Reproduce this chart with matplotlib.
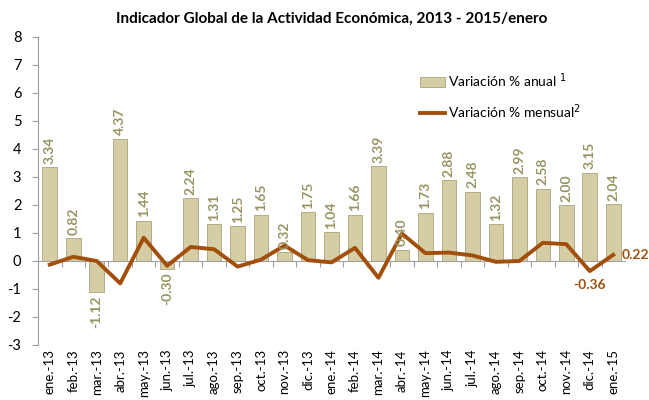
import numpy as np
import matplotlib.pyplot as plt

meses = ['ene.-13', 'feb.-13', 'mar.-13', 'abr.-13', 'may.-13', 'jun.-13', 'jul.-13',
         'ago.-13', 'sep.-13', 'oct.-13', 'nov.-13', 'dic.-13', 'ene.-14', 'feb.-14',
         'mar.-14', 'abr.-14', 'may.-14', 'jun.-14', 'jul.-14', 'ago.-14', 'sep.-14',
         'oct.-14', 'nov.-14', 'dic.-14', 'ene.-15']
anual = [3.34, 0.82, -1.12, 4.37, 1.44, -0.30, 2.24, 1.31, 1.25, 1.65, 0.32, 1.75,
         1.04, 1.66, 3.39, 0.40, 1.73, 2.88, 2.48, 1.32, 2.99, 2.58, 2.00, 3.15, 2.04]
mensual = [-0.13, 0.15, 0.0, -0.80, 0.83, -0.17, 0.50, 0.42, -0.20, 0.05, 0.55, 0.03,
           -0.05, 0.47, -0.60, 0.98, 0.28, 0.30, 0.20, -0.03, 0.0, 0.65, 0.60, -0.36, 0.22]

plt.rcParams['font.family'] = ['Lato', 'DejaVu Sans']
plt.rcParams['axes.unicode_minus'] = False

x = np.arange(len(meses))
fig = plt.figure(figsize=(6.49, 4.0), dpi=100)
ax = fig.add_axes([0.0586, 0.1375, 0.9044, 0.77])

b = ax.bar(x, anual, width=0.62, color='#d5cea4', edgecolor='#aaa37a', linewidth=0.6,
           label='Variación % anual $^1$', zorder=2)
l, = ax.plot(x, mensual, color='#a24f0c', linewidth=2.8, label='Variación % mensual$^2$', zorder=3)

lab_col = '#999261'
for xi, v in zip(x, anual):
    if v >= 0:
        ax.text(xi, v + 0.12, f'{v:.2f}', rotation=90, ha='center', va='bottom',
                fontsize=10, fontweight='bold', color=lab_col, zorder=4)
    else:
        ax.text(xi, v - 0.12, f'{v:.2f}', rotation=90, ha='center', va='top',
                fontsize=10, fontweight='bold', color=lab_col, zorder=4)

ax.text(x[-2], mensual[-2] - 0.3, f'{mensual[-2]:.2f}', ha='center', va='top',
        fontsize=10, fontweight='bold', color='#a24f0c')
ax.text(x[-1] + 0.35, mensual[-1], f'{mensual[-1]:.2f}', ha='left', va='center',
        fontsize=10, fontweight='bold', color='#a24f0c')

ax.set_xlim(-0.5, len(meses) - 0.5)
ax.set_ylim(-3, 8)
ax.set_yticks(range(-3, 9))
ax.tick_params(axis='y', labelsize=10.5, length=4, color='#a0a0a0', pad=8)

for s in ['top', 'right']:
    ax.spines[s].set_visible(False)
ax.spines['left'].set_color('#a0a0a0')
ax.spines['bottom'].set_position(('data', 0))
ax.spines['bottom'].set_color('#a0a0a0')
ax.set_xticks(x[:-1] + 0.5, minor=False)
ax.set_xticklabels([])
ax.tick_params(axis='x', length=4, color='#a0a0a0', direction='out')

sec = ax.secondary_xaxis('bottom')
sec.set_xticks(x)
sec.set_xticklabels(meses, rotation=90, fontsize=9.5)
sec.tick_params(length=0, pad=3)
sec.spines['bottom'].set_visible(False)

ax.set_title('Indicador Global de la Actividad Económica, 2013 - 2015/enero',
             fontsize=11, fontweight='bold', pad=10)
ax.legend([b, l], [b.get_label(), l.get_label()], loc='upper left',
          bbox_to_anchor=(0.63, 0.93), frameon=False, fontsize=10,
          handlelength=1.8, handletextpad=0.2, labelspacing=0.9)

fig.savefig('out.png', dpi=100)
